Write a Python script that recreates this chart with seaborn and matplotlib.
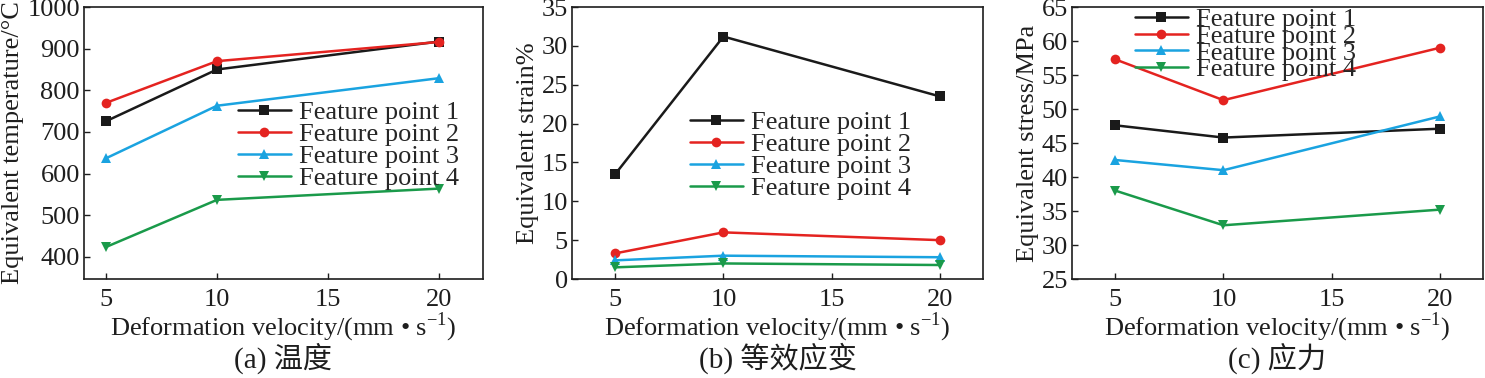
import matplotlib
matplotlib.use("Agg")
import matplotlib.pyplot as plt
import seaborn as sns
import pandas as pd

velocity = [5, 10, 20]
series_names = ["Feature point 1", "Feature point 2", "Feature point 3", "Feature point 4"]

temp_p1 = [726, 850, 917]
temp_p2 = [770, 870, 916]
temp_p3 = [637, 763, 829]
temp_p4 = [424, 537, 564]

strain_p1 = [13.5, 31.2, 23.5]
strain_p2 = [3.3, 6.0, 5.0]
strain_p3 = [2.4, 3.0, 2.8]
strain_p4 = [1.5, 2.0, 1.8]

stress_p1 = [47.6, 45.8, 47.1]
stress_p2 = [57.3, 51.3, 59.0]
stress_p3 = [42.5, 41.0, 48.9]
stress_p4 = [38.0, 32.9, 35.2]

ylabels = ["Equivalent temperature/\u00b0C", "Equivalent strain%", "Equivalent stress/MPa"]
captions = ["(a) \u6e29\u5ea6", "(b) \u7b49\u6548\u5e94\u53d8", "(c) \u5e94\u529b"]
xlabel = "Deformation velocity/(mm \u2022 s$^{\\mathregular{-1}}$)"

colors = ["#1a1a1a", "#e42320", "#1aa3e0", "#1a9a4a"]
markers = ["s", "o", "^", "v"]

sns.set_theme(style="ticks")
plt.rcParams["font.family"] = ["Liberation Serif", "Noto Sans CJK SC", "DejaVu Sans"]
plt.rcParams["mathtext.fontset"] = "custom"
plt.rcParams["mathtext.rm"] = "Liberation Serif"

def long_df(vals):
    rows = []
    for name, ys in zip(series_names, vals):
        for x, y in zip(velocity, ys):
            rows.append({"v": x, "y": y, "s": name})
    return pd.DataFrame(rows)

datasets = [
    [temp_p1, temp_p2, temp_p3, temp_p4],
    [strain_p1, strain_p2, strain_p3, strain_p4],
    [stress_p1, stress_p2, stress_p3, stress_p4],
]
ylims = [(347, 1000), (0, 35), (25, 65)]
yticks = [range(400, 1001, 100), range(0, 36, 5), range(25, 66, 5)]
xlims = [(4, 22), (3, 22), (3, 22)]
lefts = [84, 572, 1072]
widths = [399, 411, 411]
# (left px, top px, label spacing)
leg_anchor = [(238, 101, -0.06), (690, 111, -0.06), (1135, 8, -0.26)]

W, H = 1485, 378
fig = plt.figure(figsize=(W / 100, H / 100), dpi=100)
txt = "#1e1e1e"

for i in range(3):
    ax = fig.add_axes([lefts[i] / W, (H - 279) / H, widths[i] / W, 272 / H])
    df = long_df(datasets[i])
    sns.lineplot(data=df, x="v", y="y", hue="s", style="s", palette=colors,
                 markers=markers, dashes=False, linewidth=1.8, markersize=7,
                 markeredgewidth=0, ax=ax)
    ax.set_xlim(*xlims[i])
    ax.set_ylim(*ylims[i])
    ax.set_xticks([5, 10, 15, 20])
    ax.set_yticks(list(yticks[i]))
    ax.tick_params(direction="in", length=4, width=1, labelsize=19, colors=txt, pad=3)
    ax.tick_params(axis="x", pad=7)
    for sp in ax.spines.values():
        sp.set_linewidth(1.2)
        sp.set_color(txt)
    ax.set_xlabel(xlabel, fontsize=19, labelpad=0, color=txt)
    ax.set_ylabel(ylabels[i], fontsize=19, labelpad=2, color=txt)
    lx, ly, lsp = leg_anchor[i]
    ax.legend(loc="upper left", bbox_to_anchor=(lx / W, 1 - ly / H),
              bbox_transform=fig.transFigure, frameon=False, fontsize=19,
              handlelength=2.0, handletextpad=0.3, borderpad=0, borderaxespad=0,
              labelspacing=lsp, title=None)
    fig.text((lefts[i] + widths[i] / 2) / W, 1 - 358 / H, captions[i], ha="center",
             va="center", fontsize=21, color=txt,
             family=["Liberation Serif", "Noto Sans CJK SC"])

fig.savefig("out.png", dpi=100)
